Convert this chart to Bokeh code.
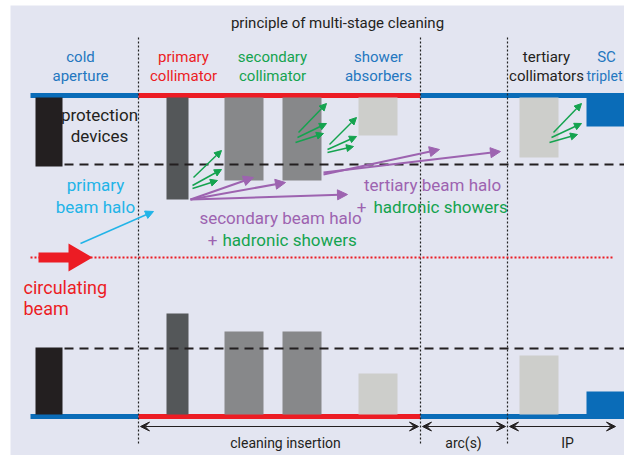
from bokeh.plotting import figure
from bokeh.models import Range1d, Arrow, NormalHead, VeeHead, ColumnDataSource
from bokeh.core.properties import value
from bokeh.embed import file_html
from bokeh.resources import INLINE

FONT = value("Roboto")

# ---------------- data (diagram coordinates, y grows downward) ----------------
devices = ["cold aperture", "primary collimator", "secondary collimator 1",
           "secondary collimator 2", "shower absorber", "tertiary collimator", "SC triplet"]
dev_x0 = [35, 166, 224, 282, 358, 519, 586]
dev_x1 = [62, 188, 263, 321, 397, 558, 630]
upper_jaw_end = [166, 199, 180, 180, 135, 157, 126]
lower_jaw_start = [347, 313, 331, 331, 373, 355, 391]
dev_colors = ["#231f20", "#545759", "#87888a", "#87888a", "#cdcecb", "#cdcecb", "#0a6cb8"]

pipe_top_y = 95
pipe_bot_y = 416
jaw_top_root = 97
jaw_bot_root = 414
pipe_x = [30, 138, 420, 630]
pipe_colors = ["#0a6cb8", "#ec1c24", "#0a6cb8"]

section_bounds = [138, 420, 507]
section_names = ["cleaning insertion", "arc(s)", "IP"]
section_arrow_x = [(140, 418), (422, 505), (509, 615)]
section_label_x = [285, 463, 567]

beam_axis_y = 257
beam_x = [30, 612]
beam_arrow_x = [38, 92]

tol_y_upper = 164
tol_y_lower = 348
tol_x = [64, 630]

green_x0 = [193, 192, 192, 298, 297, 295, 329, 327, 327, 553, 551, 549]
green_y0 = [177, 185, 188, 132, 137, 142, 144, 149, 152, 132, 137, 142]
green_x1 = [221, 221, 217, 326, 326, 323, 356, 356, 353, 581, 581, 577]
green_y1 = [150, 169, 180, 103, 123, 133, 117, 136, 146, 103, 123, 134]

purple_x0 = [190, 190, 190, 323, 323]
purple_y0 = [199, 199, 199, 174, 172]
purple_x1 = [253, 285, 347, 439, 500]
purple_y1 = [177, 182, 194, 149, 151]

halo_x0, halo_y0, halo_x1, halo_y1 = 80, 243, 153, 211

# ---------------- colours ----------------
BG = "#e3e5f1"
BLUE_T = "#2477c0"
RED = "#ec1c24"
GREEN = "#14a34f"
PURPLE = "#9d63b0"
CYAN = "#22b4e8"
DARK = "#231f20"

p = figure(width=624, height=455, output_backend="svg", toolbar_location=None,
           x_range=Range1d(10, 624), y_range=Range1d(455, 5),
           min_border_left=10, min_border_right=0, min_border_top=5, min_border_bottom=0)
p.axis.visible = False
p.grid.visible = False
p.outline_line_color = None
p.background_fill_color = BG
p.border_fill_color = "white"

# beam pipes
for i in range(3):
    for y in (pipe_top_y, pipe_bot_y):
        p.segment(x0=[pipe_x[i]], y0=[y], x1=[pipe_x[i + 1]], y1=[y],
                  line_color=pipe_colors[i], line_width=5)

# devices (upper and lower jaws)
p.quad(left=dev_x0, right=dev_x1, top=[jaw_top_root] * len(dev_x0), bottom=upper_jaw_end,
       fill_color=dev_colors, line_color=None)
p.quad(left=dev_x0, right=dev_x1, top=lower_jaw_start, bottom=[jaw_bot_root] * len(dev_x0),
       fill_color=dev_colors, line_color=None)

# tolerance dashed lines
for y in (tol_y_upper, tol_y_lower):
    p.line(x=tol_x, y=[y, y], line_color=DARK, line_width=2.2, line_dash="9 6")

# section boundaries
for x in section_bounds:
    p.line(x=[x, x], y=[37, 444], line_color="#222222", line_width=1.2, line_dash="2 2")

# circulating beam
p.line(x=beam_x, y=[beam_axis_y] * 2, line_color=RED, line_width=2, line_dash="2 2")
ax0, ax1 = beam_arrow_x
p.patch(x=[ax0, ax1 - 24, ax1 - 24, ax1, ax1 - 24, ax1 - 24, ax0],
        y=[beam_axis_y - 5, beam_axis_y - 5, beam_axis_y - 14, beam_axis_y,
           beam_axis_y + 14, beam_axis_y + 5, beam_axis_y + 5],
        fill_color=RED, line_color=None)

# arrows
gsrc = ColumnDataSource(dict(x0=green_x0, y0=green_y0, x1=green_x1, y1=green_y1))
p.add_layout(Arrow(x_start="x0", y_start="y0", x_end="x1", y_end="y1", source=gsrc,
                   line_color=GREEN, line_width=1.5,
                   end=NormalHead(size=7, fill_color=GREEN, line_color=GREEN)))
psrc = ColumnDataSource(dict(x0=purple_x0, y0=purple_y0, x1=purple_x1, y1=purple_y1))
p.add_layout(Arrow(x_start="x0", y_start="y0", x_end="x1", y_end="y1", source=psrc,
                   line_color=PURPLE, line_width=2,
                   end=NormalHead(size=10, fill_color=PURPLE, line_color=PURPLE)))
p.add_layout(Arrow(x_start=halo_x0, y_start=halo_y0, x_end=halo_x1, y_end=halo_y1,
                   line_color=CYAN, line_width=1.5,
                   end=NormalHead(size=8, fill_color=CYAN, line_color=CYAN)))

# section arrows
for (a, b) in section_arrow_x:
    p.add_layout(Arrow(x_start=a, y_start=426, x_end=b, y_end=426,
                       line_color=DARK, line_width=1,
                       start=VeeHead(size=9, fill_color=DARK, line_color=DARK),
                       end=VeeHead(size=9, fill_color=DARK, line_color=DARK)))


def txt(x, y, s, color, size, align="center"):
    p.text(x=[x], y=[y], text=[s], text_color=color, text_font=FONT,
           text_font_size=f"{size}px", text_align=align, text_baseline="middle")


txt(337, 22, "principle of multi-stage cleaning", DARK, 15)
heads = [(80, "cold", "aperture", BLUE_T), (183, "primary", "collimator", RED),
         (272, "secondary", "collimator", GREEN), (378, "shower", "absorbers", BLUE_T),
         (546, "tertiary", "collimators", DARK)]
for x, a, b, c in heads:
    txt(x, 56, a, c, 15)
    txt(x, 75, b, c, 15)
txt(606, 56, "SC", BLUE_T, 15)
txt(604, 75, "triplet", BLUE_T, 14)

txt(99, 114, "protection", DARK, 17)
txt(99, 135, "devices", DARK, 17)
txt(95, 184, "primary", CYAN, 17)
txt(95, 206, "beam halo", CYAN, 17)
txt(23, 287, "circulating", RED, 18, "left")
txt(23, 308, "beam", RED, 18, "left")

txt(280, 217, "secondary beam halo", PURPLE, 17)
txt(212, 239, "+", PURPLE, 17)
txt(222, 239, "hadronic showers", GREEN, 17, "left")
txt(432, 184, "tertiary beam halo", PURPLE, 17)
txt(361, 206, "+", PURPLE, 17)
txt(373, 206, "hadronic showers", GREEN, 17, "left")

for name, x in zip(section_names, section_label_x):
    txt(x, 442, name, DARK, 14)

open("out.html", "w").write(file_html(p, INLINE))
